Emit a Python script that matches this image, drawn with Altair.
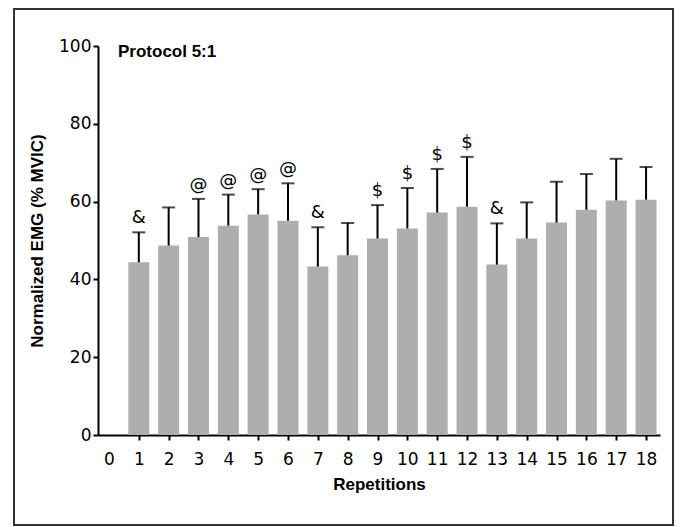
import altair as alt
import pandas as pd

reps = list(range(1, 19))
means = [44.4, 48.7, 50.9, 53.8, 56.7, 55.1, 43.3, 46.2, 50.5, 53.1, 57.2, 58.7, 43.8, 50.5, 54.6, 57.9, 60.3, 60.5]
sds = [7.7, 9.8, 9.8, 8.0, 6.5, 9.6, 10.1, 8.3, 8.6, 10.4, 11.2, 12.8, 10.6, 9.3, 10.5, 9.2, 10.7, 8.4]
marks = ["&", "", "@", "@", "@", "@", "&", "", "$", "$", "$", "$", "&", "", "", "", "", ""]
x_ticks = list(range(0, 19))
y_ticks = [0, 20, 40, 60, 80, 100]
panel_title = ["Protocol 5:1"]

df = pd.DataFrame({"rep": reps, "mean": means, "sd": sds, "mark": marks})
df["top"] = df["mean"] + df["sd"]

W, H = 562, 389
FONT = "DejaVu Sans"
BOLD = "Liberation Sans"

x_scale = alt.Scale(domain=[-0.2, 18.3], nice=False, zero=False)
x_axis = alt.Axis(
    values=x_ticks, title="Repetitions", grid=False,
    domainColor="black", domainWidth=2, tickColor="black", tickWidth=2, tickSize=5,
    tickOpacity={"condition": {"test": "datum.value === 0", "value": 0}, "value": 1},
    labelFont=FONT, labelFontSize=17, labelColor="black", labelPadding=11,
    labelFlush=False, labelOverlap=False, labelBound=False,
    titleFont=BOLD, titleFontSize=17, titleFontWeight="bold", titleColor="black", titlePadding=9,
)
y_scale = alt.Scale(domain=[0, 100], nice=False)
y_axis = alt.Axis(
    values=y_ticks, title="Normalized EMG (% MVIC)", grid=False,
    domainColor="black", domainWidth=2, tickColor="black", tickWidth=2, tickSize=5,
    labelFont=FONT, labelFontSize=17, labelColor="black", labelPadding=2,
    titleFont=BOLD, titleFontSize=17, titleFontWeight="bold", titleColor="black", titlePadding=12,
)


def X():
    return alt.X("rep:Q", scale=x_scale, axis=x_axis)


def Y(field):
    return alt.Y(field, type="quantitative", scale=y_scale, axis=y_axis)


base = alt.Chart(df)

bars = base.mark_bar(color="#aeaeae", size=21).encode(x=X(), y=Y("mean"))
err = base.mark_rule(color="black", strokeWidth=2).encode(x=X(), y=Y("mean"), y2="top:Q")
caps = base.mark_tick(color="black", orient="horizontal", size=13, thickness=2).encode(
    x=X(), y=Y("top")
)
labels = base.mark_text(font=FONT, fontSize=18, dy=-14, color="black").encode(
    x=X(), y=Y("top"), text="mark:N"
)
title = alt.Chart(pd.DataFrame({"t": panel_title})).mark_text(
    font=BOLD, fontSize=17, fontWeight="bold", align="left", baseline="top", color="black"
).encode(x=alt.value(20), y=alt.value(-2), text="t:N")
frame = alt.Chart(pd.DataFrame({"t": panel_title})).mark_rect(
    filled=False, stroke="#333333", strokeWidth=2
).encode(x=alt.value(-84), x2=alt.value(575), y=alt.value(-37), y2=alt.value(479))

chart = alt.layer(bars, err, caps, labels, title, frame).properties(
    width=W, height=H,
    autosize=alt.AutoSizeParams(type="none"),
    padding={"left": 90, "top": 38, "right": 14, "bottom": 92},
    background="white",
).configure_view(strokeWidth=0, stroke="transparent")

chart.save("out.html", embed_options={"renderer": "svg", "actions": False})
